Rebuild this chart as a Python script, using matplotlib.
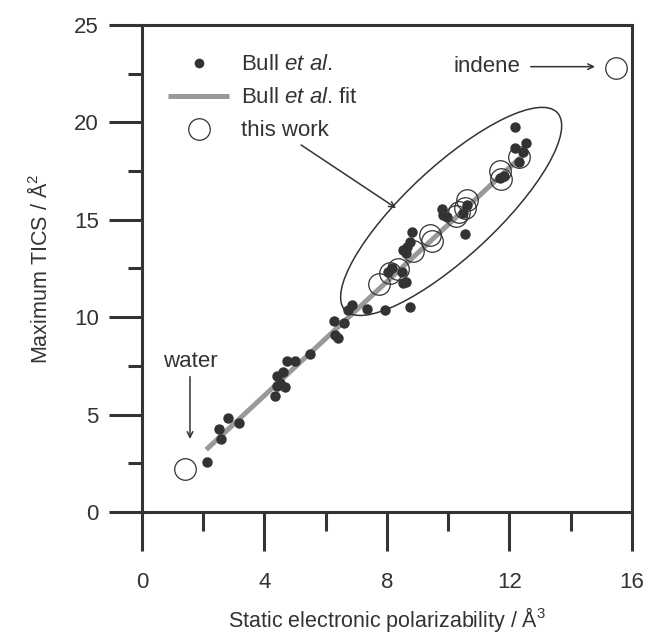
import matplotlib
matplotlib.use('Agg')
import matplotlib.pyplot as plt
import matplotlib.transforms as mtransforms
from matplotlib.patches import Ellipse

plt.rcParams['font.family'] = ['Liberation Sans', 'DejaVu Sans']
plt.rcParams['mathtext.fontset'] = 'custom'
plt.rcParams['mathtext.rm'] = 'Liberation Sans'
plt.rcParams['mathtext.it'] = 'Liberation Sans:italic'

# Bull et al. data (polarizability / A^3, max TICS / A^2)
bull_x = [2.11, 2.53, 2.82, 3.18, 2.57,
          4.35, 4.67, 4.50, 4.42, 4.42, 4.62, 4.75, 5.00, 5.49,
          6.27, 6.60, 6.31, 6.42, 6.85, 6.74, 7.36, 7.94, 8.76,
          8.54, 8.62, 8.16, 8.49, 8.05, 8.54, 8.67, 8.76, 8.81, 8.63,
          9.79, 9.85, 9.96, 10.56, 10.50, 10.61, 11.70, 11.81,
          12.19, 12.19, 12.55, 12.30, 12.46]
bull_y = [2.58, 4.24, 4.81, 4.58, 3.73,
          5.95, 6.43, 6.60, 6.47, 6.98, 7.20, 7.75, 7.75, 8.11,
          9.80, 9.69, 9.09, 8.92, 10.63, 10.37, 10.40, 10.37, 10.54,
          11.77, 11.80, 12.51, 12.34, 12.34, 13.45, 13.62, 13.88, 14.39, 13.28,
          15.54, 15.25, 15.16, 14.27, 15.33, 15.76, 17.13, 17.25,
          19.78, 18.67, 18.96, 17.98, 18.50]

# Bull et al. linear fit (end points)
fit_x = [2.1, 12.5]
fit_y = [3.2, 18.4]

# this work
work_x = [1.41, 7.73, 8.10, 8.38, 8.87, 9.41, 9.47, 10.26, 10.35, 10.61, 10.56, 11.70, 11.72, 12.30, 15.50]
work_y = [2.20, 11.70, 12.25, 12.45, 13.40, 14.20, 13.90, 15.20, 15.40, 16.00, 15.60, 17.50, 17.10, 18.20, 22.80]

dark = '#333333'

fig = plt.figure(figsize=(6.48, 6.34), dpi=100)
ax = fig.add_axes([0.219, 0.1924, 0.756, 0.7682])

fit_line, = ax.plot(fit_x, fit_y, color='#999999', lw=3.6, solid_capstyle='butt', zorder=1)
dots, = ax.plot(bull_x, bull_y, 'o', color=dark, ms=7.5, mew=0, ls='none', zorder=2)
circ, = ax.plot(work_x, work_y, 'o', mfc='none', mec=dark, ms=15.5, mew=0.9, ls='none', zorder=3)

ax.set_xlim(0, 16)
ax.set_ylim(0, 25)
ax.set_xticks([0, 4, 8, 12, 16])
ax.set_xticks([2, 6, 10, 14], minor=True)
ax.set_yticks([0, 5, 10, 15, 20, 25])
ax.set_yticks([2.5, 7.5, 12.5, 17.5, 22.5], minor=True)

for s in ax.spines.values():
    s.set_linewidth(2.2)
    s.set_color(dark)
ax.tick_params(axis='x', which='major', direction='out', length=28, width=2.2,
               color=dark, labelsize=16, labelcolor=dark, pad=15)
ax.tick_params(axis='x', which='minor', direction='out', length=14, width=2.2, color=dark)
ax.tick_params(axis='y', which='major', direction='out', length=24, width=2.2,
               color=dark, labelsize=16, labelcolor=dark, pad=7)
ax.tick_params(axis='y', which='minor', direction='out', length=10, width=2.2, color=dark)

ax.set_xlabel('Static electronic polarizability / Å$^3$', fontsize=15.5, color=dark)
ax.set_ylabel('Maximum TICS / Å$^2$', fontsize=15.5, color=dark)
ax.xaxis.set_label_coords(0.5, -0.19)
ax.yaxis.set_label_coords(-0.183, 0.5)

# ellipse round the overlapping region, drawn in screen units
ell_tr = fig.dpi_scale_trans + mtransforms.ScaledTranslation(10.1, 15.43, ax.transData)
ax.add_patch(Ellipse((0, 0), 2.9, 0.9, angle=42.9, fill=False, ec=dark, lw=1.1,
                     transform=ell_tr, zorder=4))

arrow = dict(arrowstyle='->', color=dark, lw=1.1, shrinkA=0, shrinkB=0)
ax.annotate('', xy=(8.3, 15.6), xytext=(5.2, 18.84), arrowprops=arrow)
ax.text(1.57, 7.75, 'water', fontsize=16, color=dark, ha='center', va='center')
ax.annotate('', xy=(1.57, 3.75), xytext=(1.57, 6.95), arrowprops=arrow)
ax.text(12.35, 22.86, 'indene', fontsize=16, color=dark, ha='right', va='center')
ax.annotate('', xy=(14.8, 22.86), xytext=(12.7, 22.86), arrowprops=arrow)

leg = ax.legend([dots, fit_line, circ],
                ['Bull $\\mathit{et\\ al}$.', 'Bull $\\mathit{et\\ al}$. fit', 'this work'],
                loc='upper left', bbox_to_anchor=(0.035, 0.958), frameon=False,
                fontsize=16, handlelength=2.75, handletextpad=0.55,
                labelspacing=0.54, borderaxespad=0)
for t in leg.get_texts():
    t.set_color(dark)
leg.legend_handles[0].set_markersize(7)

fig.savefig('out.png', dpi=100)
